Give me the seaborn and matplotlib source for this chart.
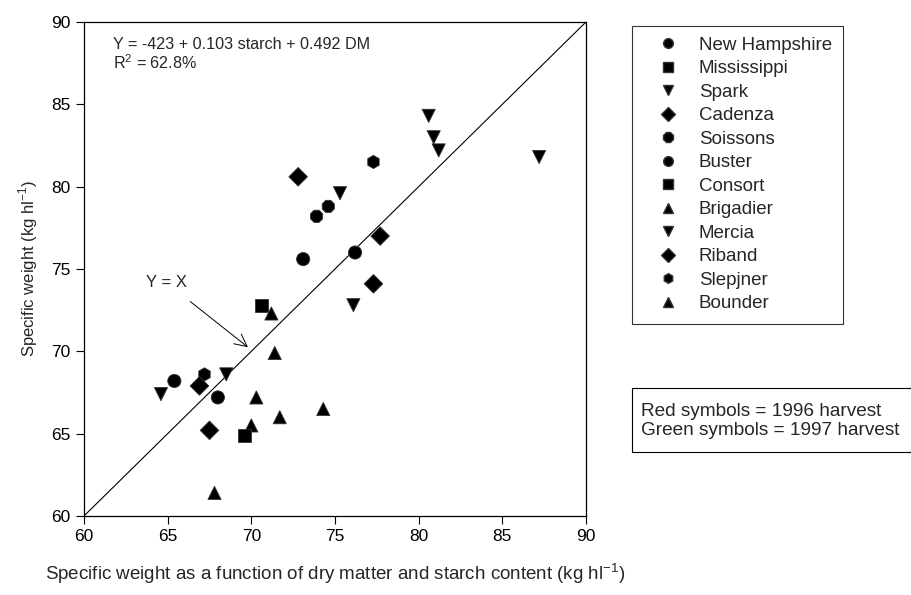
import matplotlib
matplotlib.use("Agg")
import matplotlib.pyplot as plt
from matplotlib.lines import Line2D
from matplotlib.patches import Rectangle
import seaborn as sns
import pandas as pd

# Cultivars (legend order) and their marker shapes
varieties = ["New Hampshire", "Mississippi", "Spark", "Cadenza", "Soissons", "Buster",
             "Consort", "Brigadier", "Mercia", "Riband", "Slepjner", "Bounder"]
variety_markers = ["o", "s", "v", "D", "8", "o", "s", "^", "v", "D", "h", "^"]

# Predicted specific weight (from dry matter and starch) vs. measured specific weight
point_variety = ["Spark", "Mercia", "Spark", "Mercia", "Slepjner", "Mercia", "Soissons",
                 "Soissons", "Cadenza", "Buster", "Riband", "Cadenza", "Buster", "Mercia",
                 "Bounder", "Bounder", "Consort", "Slepjner", "Riband", "Spark",
                 "New Hampshire", "Spark", "New Hampshire", "Brigadier", "Bounder",
                 "Brigadier", "Brigadier", "Mississippi", "Cadenza", "Brigadier"]
predicted = [80.6, 80.9, 81.2, 87.2, 77.3, 75.3, 74.6, 73.9, 77.7, 76.2, 77.3, 72.8,
             73.1, 76.1, 71.2, 71.4, 70.6, 67.2, 66.9, 68.5, 65.4, 64.6, 68.0, 70.3,
             71.7, 74.3, 70.0, 69.6, 67.5, 67.8]
measured = [84.3, 83.0, 82.2, 81.8, 81.5, 79.6, 78.8, 78.2, 77.0, 76.0, 74.1, 80.6,
            75.6, 72.8, 72.3, 69.9, 72.8, 68.6, 67.9, 68.6, 68.2, 67.4, 67.2, 67.2,
            66.0, 66.5, 65.5, 64.9, 65.2, 61.4]

equation = "Y = -423 + 0.103 starch + 0.492 DM"
r_squared = "R$^2$ = 62.8%"
harvest_note = ["Red symbols = 1996 harvest", "Green symbols = 1997 harvest"]

df = pd.DataFrame({"variety": point_variety, "x": predicted, "y": measured})
marker_map = dict(zip(varieties, variety_markers))

sns.set_style("ticks")
plt.rcParams["font.family"] = ["Liberation Sans", "DejaVu Sans"]
plt.rcParams["mathtext.fontset"] = "custom"
plt.rcParams["mathtext.rm"] = "Liberation Sans"

fig = plt.figure(figsize=(9.11, 5.95), dpi=100)
ax = fig.add_axes([0.0922, 0.1328, 0.551, 0.8302])

sns.scatterplot(data=df, x="x", y="y", style="variety", markers=marker_map,
                style_order=varieties, color="black", s=90, edgecolor="#333333",
                linewidth=0.6, legend=False, ax=ax, zorder=3)

# Line of equality
ax.plot([60, 90], [60, 90], color="black", lw=0.8, zorder=2)

ax.set_xlim(60, 90)
ax.set_ylim(60, 90)
ax.set_xticks(range(60, 91, 5))
ax.set_yticks(range(60, 91, 5))
ax.tick_params(direction="out", length=6, width=0.8, labelsize=12.5, colors="black")
for sp in ax.spines.values():
    sp.set_visible(True)
    sp.set_linewidth(0.9)
    sp.set_color("black")

ax.set_xlabel("Specific weight as a function of dry matter and starch content (kg hl$^{-1}$)",
              fontsize=13.5, labelpad=12)
ax.set_ylabel("Specific weight (kg hl$^{-1}$)", fontsize=12, labelpad=8)

ax.text(61.75, 89.1, equation + "\n" + r_squared, fontsize=11.6, va="top", ha="left",
        linespacing=1.12)

ax.annotate("Y = X", xy=(69.8, 70.25), xytext=(64.95, 74.15), fontsize=12,
            ha="center", va="center",
            arrowprops=dict(arrowstyle="->", lw=0.7, color="black",
                            shrinkA=9, shrinkB=0, mutation_scale=22))

# Cultivar legend
handles = [Line2D([], [], marker=m, ls="none", color="black",
                  markersize=8.5 if m == "8" else 7, markeredgecolor="#333333")
           for m in variety_markers]
leg = fig.legend(handles, varieties, loc="upper left",
                 bbox_to_anchor=(0.694, 0.957), frameon=True, fontsize=13.5,
                 handletextpad=0.35, labelspacing=0.34, borderpad=0.6,
                 handlelength=2.6, borderaxespad=0, fancybox=False)
leg.get_frame().set_edgecolor("black")
leg.get_frame().set_linewidth(0.8)

# Harvest note box, running off the right edge
fig.patches.append(Rectangle((0.694, 0.240), 0.4, 0.108, transform=fig.transFigure,
                             fill=False, edgecolor="black", lw=0.8, clip_on=False))
fig.text(0.7036, 0.309, harvest_note[0], fontsize=13.7, va="center", ha="left")
fig.text(0.7036, 0.277, harvest_note[1], fontsize=13.7, va="center", ha="left")

fig.savefig("out.png", dpi=100)
